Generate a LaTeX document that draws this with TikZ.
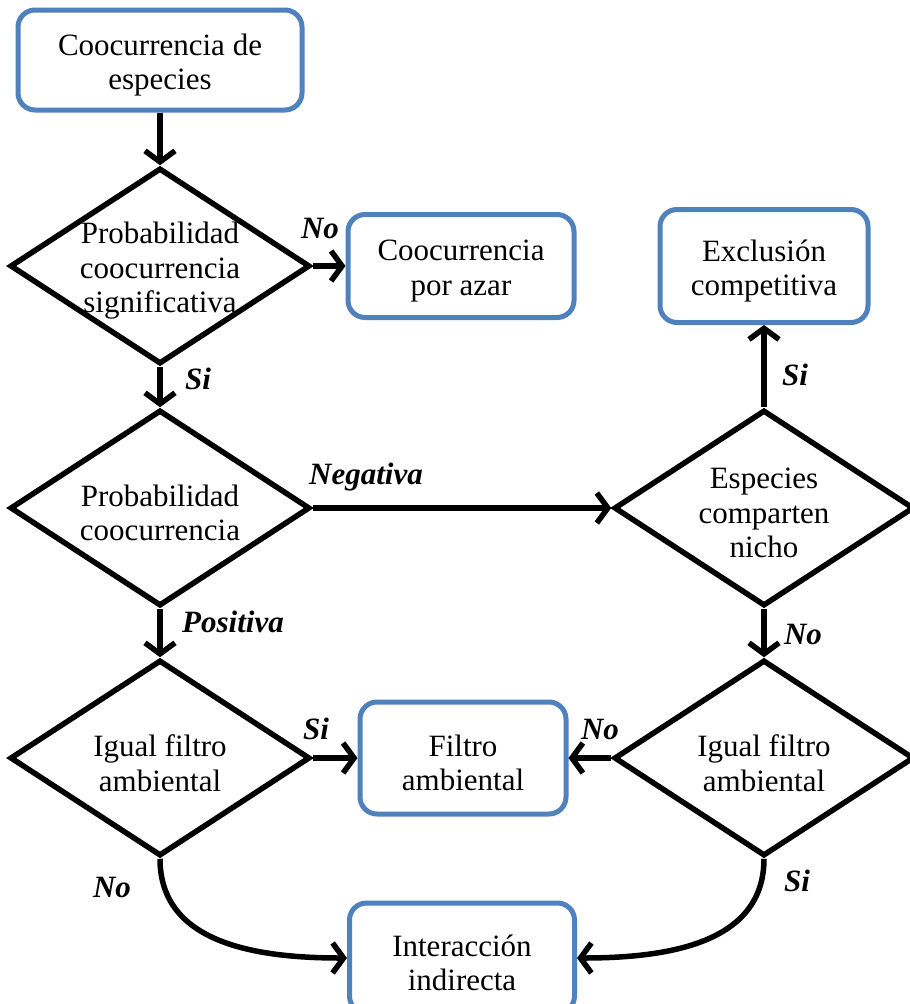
\documentclass[tikz,border=0pt]{standalone}
\usepackage{fontspec}
\setmainfont{Liberation Serif}
\usetikzlibrary{arrows.meta,shapes.geometric}
\definecolor{boxblue}{HTML}{4F81BD}
\begin{document}
\begin{tikzpicture}[x=1pt,y=-1pt,
  rbox/.style={draw=boxblue, line width=5pt, rounded corners=17pt, fill=white, inner sep=0pt},
  dshape/.style={draw=black, line width=5.5pt, diamond, minimum width=300pt, minimum height=196pt, inner sep=0pt},
  txt/.style={align=center, font=\fontsize{31}{34.5}\selectfont, inner sep=0pt, yshift=-5pt},
  lab/.style={font=\fontsize{31}{34}\selectfont\bfseries\itshape, inner sep=0pt},
  arr/.style={line width=5.5pt, -{Straight Barb[length=11pt,width=30pt]}}]
\clip (0,0) rectangle (910,1004);
% boxes
\node[rbox, minimum width=284pt, minimum height=100pt] (b1) at (160,60) {};
\node[rbox, minimum width=226pt, minimum height=103pt] (b2) at (461,266) {};
\node[rbox, minimum width=208pt, minimum height=113pt] (b3) at (764,266) {};
\node[rbox, minimum width=206pt, minimum height=112pt] (b4) at (463,758) {};
\node[rbox, minimum width=225pt, minimum height=110pt] (b5) at (462,958) {};
\node[txt] (b1t) at (b1.center) {Coocurrencia de\\especies};
\node[txt] (b2t) at (b2.center) {Coocurrencia\\por azar};
\node[txt] (b3t) at (b3.center) {Exclusión\\competitiva};
\node[txt] (b4t) at (b4.center) {Filtro\\ambiental};
\node[txt] (b5t) at (b5.center) {Interacción\\indirecta};
% diamonds
\node[dshape] (d1) at (160,266) {};
\node[dshape] (d2) at (160,508) {};
\node[dshape] (d3) at (764,508) {};
\node[dshape] (d4) at (160,758) {};
\node[dshape] (d5) at (764,758) {};
\node[txt] (t1) at (d1.center) {Probabilidad\\coocurrencia\\significativa};
\node[txt] (t2) at (d2.center) {Probabilidad\\coocurrencia};
\node[txt] (t3) at (d3.center) {Especies\\comparten\\nicho};
\node[txt] (t4) at (d4.center) {Igual filtro\\ambiental};
\node[txt] (t5) at (d5.center) {Igual filtro\\ambiental};
% connectors
\draw[arr] (b1.south) -- (d1.north);
\draw[arr] (d1.east) -- (b2.west);
\draw[arr] (d1.south) -- (d2.north);
\draw[arr] (d2.east) -- (d3.west);
\draw[arr] (d3.north) -- (b3.south);
\draw[arr] (d2.south) -- (d4.north);
\draw[arr] (d3.south) -- (d5.north);
\draw[arr] (d4.east) -- (b4.west);
\draw[arr] (d5.west) -- (b4.east);
\draw[arr] (d4.south) .. controls +(0,85) and +(-90,0) .. (b5.west);
\draw[arr] (d5.south) .. controls +(0,85) and +(90,0) .. (b5.east);
% labels
\node[lab] (l1) at (320,228) {No};
\node[lab] (l2) at (198,379) {Si};
\node[lab] (l3) at (366,477) {Negativa};
\node[lab] (l4) at (233,622) {Positiva};
\node[lab] (l5) at (795,375) {Si};
\node[lab] (l6) at (803,634) {No};
\node[lab] (l7) at (316,729) {Si};
\node[lab] (l8) at (600,729) {No};
\node[lab] (l9) at (112,887) {No};
\node[lab] (l10) at (797,881) {Si};
\end{tikzpicture}
\end{document}
